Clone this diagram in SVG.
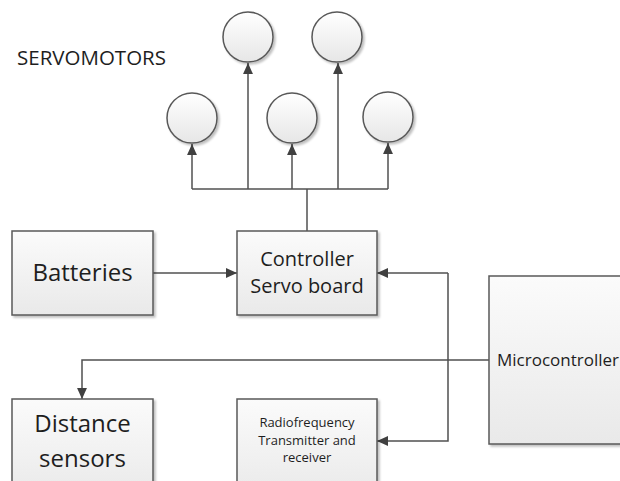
<svg xmlns="http://www.w3.org/2000/svg" width="620" height="481" viewBox="0 0 620 481">
<defs>
<linearGradient id="boxg" x1="0" y1="0" x2="0" y2="1">
<stop offset="0" stop-color="#fbfbfb"/>
<stop offset="1" stop-color="#e9e9e9"/>
</linearGradient>
<linearGradient id="circg" x1="0" y1="0" x2="0" y2="1">
<stop offset="0" stop-color="#ffffff"/>
<stop offset="1" stop-color="#e6e6e6"/>
</linearGradient>
<filter id="sh" x="-10%" y="-10%" width="130%" height="130%">
<feGaussianBlur in="SourceAlpha" stdDeviation="1.2"/>
<feOffset dx="1.5" dy="1.5" result="b"/>
<feComponentTransfer><feFuncA type="linear" slope="0.25"/></feComponentTransfer>
<feMerge><feMergeNode/><feMergeNode in="SourceGraphic"/></feMerge>
</filter>
<marker id="arr" viewBox="0 0 10 10" refX="10" refY="5" markerWidth="11" markerHeight="11" markerUnits="userSpaceOnUse" orient="auto">
<path d="M0,0.5 L10,5 L0,9.5 Z" fill="#404040"/>
</marker>
</defs>
<style>
.box{fill:url(#boxg);stroke:#595959;stroke-width:1.5;filter:url(#sh)}
.circ{fill:url(#circg);stroke:#595959;stroke-width:1.5;filter:url(#sh)}
.ln{fill:none;stroke:#505050;stroke-width:1.5}
.t{font-family:"Open Sans","Liberation Sans",sans-serif;fill:#1e1e1e;text-anchor:middle}
</style>
<rect width="620" height="481" fill="#ffffff"/>
<text class="t" x="17" y="65" font-size="20.5" style="text-anchor:start">SERVOMOTORS</text>
<g id="connectors">
<path class="ln" d="M307,231 V189"/>
<path class="ln" d="M192,189 H388"/>
<path class="ln" d="M192,189 V144" marker-end="url(#arr)"/>
<path class="ln" d="M248,189 V63" marker-end="url(#arr)"/>
<path class="ln" d="M292,189 V144" marker-end="url(#arr)"/>
<path class="ln" d="M338,189 V63" marker-end="url(#arr)"/>
<path class="ln" d="M388,189 V143" marker-end="url(#arr)"/>
<path class="ln" d="M153,273 H237" marker-end="url(#arr)"/>
<path class="ln" d="M448,273 H377" marker-end="url(#arr)"/>
<path class="ln" d="M448,273 V441 H377" marker-end="url(#arr)"/>
<path class="ln" d="M489,360 H82 V399" marker-end="url(#arr)"/>
</g>
<g id="servo1"><circle class="circ" cx="192" cy="118" r="25"/></g>
<g id="servo2"><circle class="circ" cx="248" cy="37" r="25"/></g>
<g id="servo3"><circle class="circ" cx="292" cy="118" r="25"/></g>
<g id="servo4"><circle class="circ" cx="337" cy="37" r="25"/></g>
<g id="servo5"><circle class="circ" cx="388" cy="117" r="25"/></g>
<g id="batteries">
<rect class="box" x="12" y="231" width="141" height="84"/>
<text class="t" x="82.5" y="281" font-size="24">Batteries</text>
</g>
<g id="controller">
<rect class="box" x="237" y="231" width="140" height="84"/>
<text class="t" x="307" y="266" font-size="20">Controller</text>
<text class="t" x="307" y="293" font-size="20">Servo board</text>
</g>
<g id="microcontroller">
<rect class="box" x="489" y="276" width="150" height="168"/>
<text class="t" x="497" y="366" font-size="17" style="text-anchor:start">Microcontroller</text>
</g>
<g id="distance">
<rect class="box" x="12" y="399" width="141" height="100"/>
<text class="t" x="82.5" y="432" font-size="24">Distance</text>
<text class="t" x="82.5" y="467" font-size="24">sensors</text>
</g>
<g id="radio">
<rect class="box" x="237" y="399" width="140" height="100"/>
<text class="t" x="307" y="427" font-size="13">Radiofrequency</text>
<text class="t" x="307" y="445" font-size="13">Transmitter and</text>
<text class="t" x="307" y="462" font-size="13">receiver</text>
</g>
</svg>
